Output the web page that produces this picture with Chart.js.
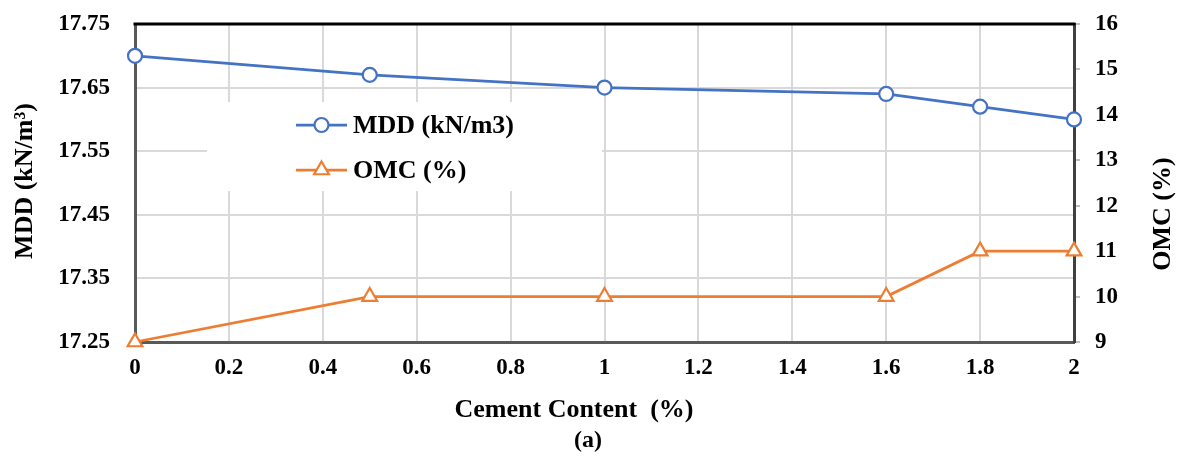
<!DOCTYPE html>
<html>
<head>
<meta charset="utf-8">
<script src="https://cdn.jsdelivr.net/npm/chart.js@4.4.1/dist/chart.umd.min.js"></script>
<style>
  html, body { margin: 0; padding: 0; background: #ffffff; }
  #wrap { width: 1178px; height: 457px; position: relative; }
</style>
</head>
<body>
<div id="wrap"><canvas id="chart" width="1178" height="457"></canvas></div>
<script>
// Cement content (%) and the compaction results measured at each dosage
const cementContent = [0, 0.5, 1, 1.6, 1.8, 2];
const mddValues = [17.70, 17.67, 17.65, 17.64, 17.62, 17.60];
const omcValues = [9, 10, 10, 10, 11, 11];

// Tick labels for each axis
const xTickLabels = ['0', '0.2', '0.4', '0.6', '0.8', '1', '1.2', '1.4', '1.6', '1.8', '2'];
const mddTickLabels = ['17.25', '17.35', '17.45', '17.55', '17.65', '17.75'];
const omcTickLabels = ['9', '10', '11', '12', '13', '14', '15', '16'];

// Series names and axis captions
const seriesNames = ['MDD (kN/m3)', 'OMC (%)'];
const xTitle = 'Cement Content  (%)';
const mddTitle = 'MDD (kN/m\u00B3)';
const omcTitle = 'OMC (%)';
const panelCaption = '(a)';

const FONT = "'Liberation Serif', 'Times New Roman', serif";
const BLUE = '#4472C4';
const ORANGE = '#ED7D31';
const GRID = '#D9D9D9';
const FRAME = '#595959';
const TICK_FONT = { size: 23, weight: 'bold' };

Chart.defaults.font.family = FONT;
Chart.defaults.color = '#000000';

const toPoints = (ys) => cementContent.map((x, i) => ({ x: x, y: ys[i] }));

// Vertical axes keep the plot top fixed regardless of label overhang
const fixVertical = (width) => (s) => {
  s.width = width;
  s.paddingTop = 0;
  s.paddingBottom = 0;
};

// White panel behind the in-plot legend plus the heavy top frame line
const legendBackdrop = {
  id: 'legendBackdrop',
  beforeDatasetsDraw(chart) {
    const ctx = chart.ctx;
    const a = chart.chartArea;
    ctx.save();
    ctx.fillStyle = '#ffffff';
    ctx.fillRect(207, 102, 395, 89);
    ctx.strokeStyle = '#000000';
    ctx.lineWidth = 3;
    ctx.beginPath();
    ctx.moveTo(a.left - 1.5, a.top);
    ctx.lineTo(a.right + 1.5, a.top);
    ctx.stroke();
    ctx.restore();
  }
};

// Legend inside the plot and the axis captions
const captions = {
  id: 'captions',
  afterDraw(chart) {
    const ctx = chart.ctx;
    ctx.save();
    // legend
    const rows = [125, 170];
    chart.data.datasets.forEach((ds, i) => {
      const y = rows[i];
      ctx.strokeStyle = ds.borderColor;
      ctx.lineWidth = 2.75;
      ctx.beginPath();
      ctx.moveTo(296, y);
      ctx.lineTo(347, y);
      ctx.stroke();
      ctx.fillStyle = '#ffffff';
      ctx.strokeStyle = ds.borderColor;
      ctx.lineWidth = 2.2;
      Chart.helpers.drawPoint(ctx, { pointStyle: ds.pointStyle, radius: ds.pointRadius, borderWidth: 2.2, rotation: 0 }, 321.5, y);
      ctx.fillStyle = '#000000';
      ctx.font = 'bold 26px ' + FONT;
      ctx.textAlign = 'left';
      ctx.textBaseline = 'middle';
      ctx.fillText(ds.label, 353, y + 1);
    });

    ctx.fillStyle = '#000000';
    ctx.font = 'bold 26px ' + FONT;
    ctx.textAlign = 'center';
    ctx.textBaseline = 'middle';
    ctx.fillText(xTitle, 574, 410);
    ctx.font = 'bold 24px ' + FONT;
    ctx.fillText(panelCaption, 588, 441);

    ctx.font = 'bold 26px ' + FONT;
    ctx.save();
    ctx.translate(25, 181);
    ctx.rotate(-Math.PI / 2);
    ctx.fillText(mddTitle, 0, 0);
    ctx.restore();

    ctx.save();
    ctx.translate(1163, 214);
    ctx.rotate(-Math.PI / 2);
    ctx.fillText(omcTitle, 0, 0);
    ctx.restore();
    ctx.restore();
  }
};

new Chart(document.getElementById('chart'), {
  type: 'line',
  data: {
    datasets: [
      {
        label: seriesNames[0],
        data: toPoints(mddValues),
        yAxisID: 'y',
        borderColor: BLUE,
        borderWidth: 2.75,
        pointStyle: 'circle',
        pointRadius: 7,
        pointBorderWidth: 2.2,
        pointBackgroundColor: '#ffffff',
        pointBorderColor: BLUE,
        tension: 0,
        clip: false
      },
      {
        label: seriesNames[1],
        data: toPoints(omcValues),
        yAxisID: 'y1',
        borderColor: ORANGE,
        borderWidth: 2.75,
        pointStyle: 'triangle',
        pointRadius: 8.5,
        pointBorderWidth: 2.2,
        pointBackgroundColor: '#ffffff',
        pointBorderColor: ORANGE,
        tension: 0,
        clip: false
      }
    ]
  },
  options: {
    responsive: false,
    animation: false,
    devicePixelRatio: 1,
    layout: { padding: { top: 24, left: 0, right: 0, bottom: 0 } },
    plugins: {
      legend: { display: false },
      tooltip: { enabled: false }
    },
    scales: {
      x: {
        type: 'linear',
        position: 'bottom',
        min: 0,
        max: 2,
        ticks: {
          stepSize: 0.2,
          autoSkip: false,
          maxRotation: 0,
          padding: 12,
          font: TICK_FONT,
          callback: (v, i) => xTickLabels[i]
        },
        grid: { color: GRID, lineWidth: 2, drawTicks: false },
        border: { color: FRAME, width: 3 },
        afterFit: (s) => { s.height = 115; s.paddingLeft = 0; s.paddingRight = 0; }
      },
      y: {
        type: 'linear',
        position: 'left',
        min: 17.25,
        max: 17.75,
        ticks: {
          stepSize: 0.1,
          autoSkip: false,
          padding: 25,
          font: TICK_FONT,
          callback: (v, i) => mddTickLabels[i]
        },
        grid: { color: GRID, lineWidth: 2, drawTicks: false },
        border: { color: FRAME, width: 3 },
        afterFit: fixVertical(135)
      },
      y1: {
        type: 'linear',
        position: 'right',
        min: 9,
        max: 16,
        ticks: {
          stepSize: 1,
          autoSkip: false,
          padding: 15,
          font: TICK_FONT,
          callback: (v, i) => omcTickLabels[i]
        },
        grid: { drawOnChartArea: false, drawTicks: true, tickLength: 6, color: '#BFBFBF', lineWidth: 2 },
        border: { color: '#404040', width: 3 },
        afterFit: fixVertical(104)
      }
    }
  },
  plugins: [legendBackdrop, captions]
});
</script>
</body>
</html>
